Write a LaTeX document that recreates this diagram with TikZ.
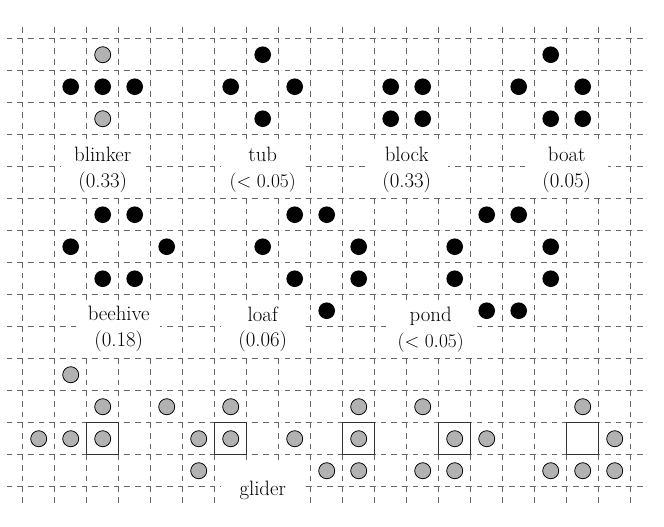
\documentclass[tikz,border=0pt]{standalone}
\usepackage{tikz}
\tikzset{
   mygrid/.style={draw=black!60, dash pattern=on 5pt off 4.5pt, line width=.8pt},
   mylive/.style={fill=black},
   mygrey/.style={draw=black, fill=gray!60, line width=.7pt},
   mybox/.style={draw=black!80, line width=1pt},
   mylabel/.style={fill=white, align=center, inner sep=0pt, minimum width=2.6cm,
      minimum height=1.6cm, font=\fontsize{18.5}{22}\selectfont}
}

\begin{document}
\begin{tikzpicture}
   \useasboundingbox (-1.21,-14.73) rectangle (19.54,1.71);
   \draw[mygrid, shift={(.5,.5)}] (-1.5,-14.5) grid (18.5,.5);
   % names and frequencies
   \node[mylabel] (blinker) at (2,-3.6) {blinker\\[1pt](0.33)};
   \node[mylabel] (tub) at (7,-3.6) {tub\\[1pt]$(<0.05)$};
   \node[mylabel] (block) at (11.5,-3.6) {block\\[1pt](0.33)};
   \node[mylabel] (boat) at (16.5,-3.6) {boat\\[1pt](0.05)};
   \node[mylabel] (beehive) at (2.5,-8.58) {beehive\\[1pt](0.18)};
   \node[mylabel] (loaf) at (7,-8.58) {loaf\\[1pt](0.06)};
   \node[mylabel] (pond) at (12.25,-8.58) {pond\\[1pt]$(<0.05)$};
   \node[mylabel] (glider) at (7,-13.62) {glider};
   % live cells
   \foreach \c/\r in {1/1,2/1,3/1, 7/0,6/1,8/1,7/2, 11/1,12/1,11/2,12/2,
         16/0,15/1,17/1,16/2,17/2, 2/5,3/5,1/6,4/6,2/7,3/7,
         8/5,9/5,7/6,10/6,8/7,10/7,9/8, 14/5,15/5,13/6,16/6,13/7,16/7,14/8,15/8}
      \fill[mylive] (\c,-\r) circle (.26);
   % blinker other phase and glider steps
   \foreach \c/\r in {2/0,2/2, 1/10,2/11,0/12,1/12,2/12, 4/11,6/11,5/12,6/12,5/13,
         10/11,8/12,10/12,9/13,10/13, 12/11,13/12,14/12,12/13,13/13,
         17/11,18/12,16/13,17/13,18/13}
      \filldraw[mygrey] (\c,-\r) circle (.25);
   \foreach \c in {2,6,10,13,17}
      \draw[mybox] (\c-.5,-11.5) rectangle (\c+.5,-12.5);
\end{tikzpicture}
\end{document}
